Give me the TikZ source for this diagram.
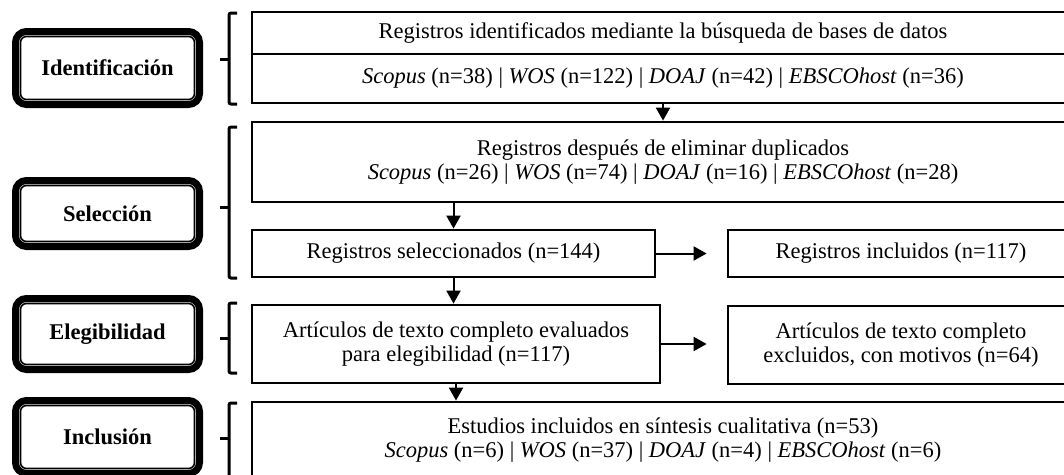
\documentclass[tikz,border=0pt]{standalone}
\usepackage{fontspec}
\setmainfont{Liberation Serif}
\usetikzlibrary{arrows.meta,calc}
\tikzset{
  caja/.style = {draw=black, line width=2.8pt, align=center, inner sep=0pt,
    font=\fontsize{22.5}{24}\selectfont},
  etapa/.style = {draw=black, line width=7pt, rounded corners=11pt, align=center,
    minimum width=184pt, font=\fontsize{22.5}{24}\selectfont\bfseries},% fase PRISMA
  interior/.style = {draw=black, line width=1.6pt, rounded corners=6pt},% borde fino
  flecha/.style = {line width=2pt, -{Triangle[length=13pt,width=14pt]}},
  llave/.style = {line width=3pt, rounded corners=2pt}
}
% llave: arriba, abajo, punta
\newcommand\llave[3]{%
  \draw[llave] (237,#1) -- (229,#1) -- (229,#2) -- (237,#2);
  \draw[llave] (229,#3) -- (220,#3);}

\begin{document}
\begin{tikzpicture}[x=1pt,y=-1pt]
\useasboundingbox (0,0) rectangle (1064,474);
\clip (0,0) rectangle (1064,474);
% fases
\node[etapa, minimum height=73pt] (fase1) at (107.5,68) {Identificación};
\node[etapa, minimum height=66pt] (fase2) at (107.5,213.5) {Selección};
\node[etapa, minimum height=71pt] (fase3) at (107.5,334) {Elegibilidad};
\node[etapa, minimum height=73pt] (fase4) at (107.5,437) {Inclusión};
\foreach \f in {fase1,fase2,fase3,fase4}
  \draw[interior] ($(\f.north west)+(8.5,8.5)$) rectangle ($(\f.south east)+(-8.5,-8.5)$);
% llaves
\llave{13}{104}{59}
\llave{127}{278}{207}
\llave{303}{373}{338}
\llave{403}{480}{438}
% cajas
\node[caja, minimum width=822pt, minimum height=42pt] (ident) at (663,33)
  {Registros identificados mediante la búsqueda de bases de datos};
\node[caja, minimum width=822pt, minimum height=49pt] (bases) at (663,78.5)
  {\textit{Scopus} (n=38) | \textit{WOS} (n=122) | \textit{DOAJ} (n=42) | \textit{EBSCOhost} (n=36)};
\node[caja, minimum width=822pt, minimum height=80pt] (dupl) at (663,162)
  {Registros después de eliminar duplicados\\
   \textit{Scopus} (n=26) | \textit{WOS} (n=74) | \textit{DOAJ} (n=16) | \textit{EBSCOhost} (n=28)};
\node[caja, minimum width=403pt, minimum height=47pt] (selec) at (453.5,253.5)
  {Registros seleccionados (n=144)};
\node[caja, minimum width=346pt, minimum height=47pt] (incl) at (901,253.5)
  {Registros incluidos (n=117)};
\node[caja, minimum width=408pt, minimum height=78pt] (eval) at (456,344)
  {Artículos de texto completo evaluados\\para elegibilidad (n=117)};
\node[caja, minimum width=346pt, minimum height=78pt] (excl) at (901,345)
  {Artículos de texto completo\\excluidos, con motivos (n=64)};
\node[caja, minimum width=822pt, minimum height=76pt] (sint) at (663,440)
  {Estudios incluidos en síntesis cualitativa (n=53)\\
   \textit{Scopus} (n=6) | \textit{WOS} (n=37) | \textit{DOAJ} (n=4) | \textit{EBSCOhost} (n=6)};
% flechas
\draw[flecha] (bases.south) -- (dupl.north);
\draw[flecha] (dupl.south -| selec.north) -- (selec.north);
\draw[flecha] (selec.south) -- (selec.south |- eval.north);
\draw[flecha] (eval.south) -- (eval.south |- sint.north);
\draw[flecha, shorten >=20pt] (selec.east) -- (selec.east -| incl.west);
\draw[flecha, shorten >=20pt] (eval.east) -- (eval.east -| excl.west);
\end{tikzpicture}
\end{document}
